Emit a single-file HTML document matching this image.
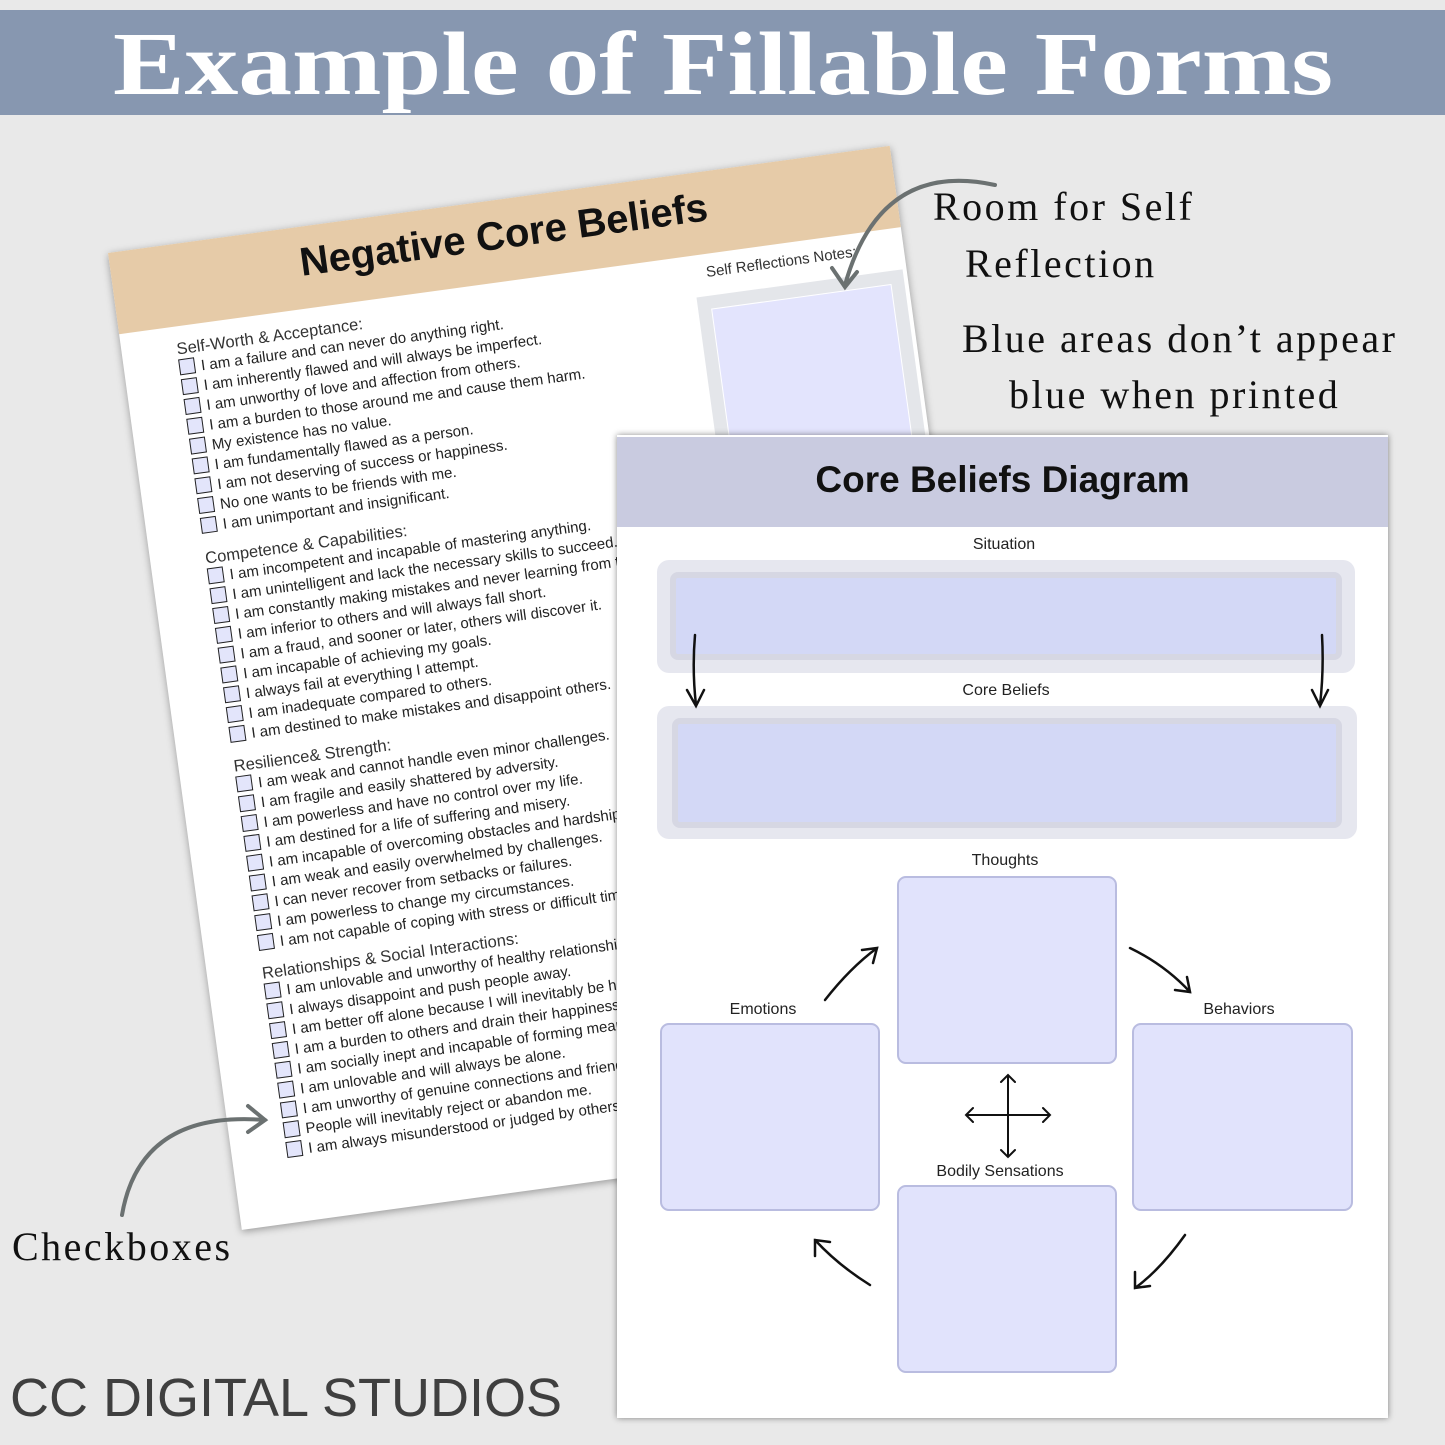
<!DOCTYPE html>
<html><head><meta charset="utf-8"><style>
*{margin:0;padding:0;box-sizing:border-box}
body{width:1445px;height:1445px;background:#e9e9e9;position:relative;overflow:hidden;font-family:"Liberation Sans",sans-serif}
.abs{position:absolute}
#back{left:108px;top:253px;width:789px;height:986px;background:#fff;transform-origin:0 0;transform:rotate(-7.8deg);box-shadow:0 2px 8px rgba(0,0,0,.35)}
#back .hd{position:absolute;left:0;top:0;width:789px;height:82px;background:#e6cba8}
#back .t{position:absolute;left:0;width:789px;top:14px;text-align:center;font-weight:bold;font-size:40px;color:#111}
.sec{position:absolute;left:55px;font-size:15px;color:#222}
.sec h4{font-weight:normal;font-size:16.5px;height:20px;line-height:20px;color:#333}
.sec div{height:20px;line-height:20px;white-space:nowrap}
.sec div:before{content:"";display:inline-block;width:14px;height:14px;border:1.5px solid #222;background:#e3e5fb;margin-right:6px;vertical-align:-2px}
#front{left:617px;top:435px;width:771px;height:983px;background:#fff;box-shadow:0 0 6px rgba(0,0,0,.45)}
.lbl{position:absolute;font-size:16px;color:#222;transform:translateX(-50%);white-space:nowrap}
.box{position:absolute;background:#e1e3fc;border:2px solid #b9bce0;border-radius:9px}
.serif{font-family:"Liberation Serif",serif;font-size:40px;color:#111;position:absolute;white-space:nowrap;letter-spacing:2.5px}
</style></head><body>
<div class="abs" style="left:0;top:10px;width:1445px;height:105px;background:#8797b0"></div>
<svg class="abs" style="left:0;top:0" width="1445" height="130"><text x="113" y="94" textLength="1220" lengthAdjust="spacingAndGlyphs" font-family="Liberation Serif,serif" font-weight="bold" font-size="90" fill="#fff">Example of Fillable Forms</text></svg>

<div id="back" class="abs">
<div class="hd"></div>
<div class="t">Negative Core Beliefs</div>
<div style="position:absolute;left:590px;top:92px;font-size:15px;color:#333">Self Reflections Notes:</div>
<div style="position:absolute;left:577px;top:124px;width:208px;height:360px;background:#e4e6ea"></div>
<div style="position:absolute;left:590px;top:137px;width:182px;height:340px;background:#e3e4fd;border:1px solid #fff"></div>
<div class="sec" style="top:95px"><h4>Self-Worth &amp; Acceptance:</h4>
<div>I am a failure and can never do anything right.</div><div>I am inherently flawed and will always be imperfect.</div><div>I am unworthy of love and affection from others.</div><div>I am a burden to those around me and cause them harm.</div><div>My existence has no value.</div><div>I am fundamentally flawed as a person.</div><div>I am not deserving of success or happiness.</div><div>No one wants to be friends with me.</div><div>I am unimportant and insignificant.</div></div>
<div class="sec" style="top:306px"><h4>Competence &amp; Capabilities:</h4>
<div>I am incompetent and incapable of mastering anything.</div><div>I am unintelligent and lack the necessary skills to succeed.</div><div>I am constantly making mistakes and never learning from them.</div><div>I am inferior to others and will always fall short.</div><div>I am a fraud, and sooner or later, others will discover it.</div><div>I am incapable of achieving my goals.</div><div>I always fail at everything I attempt.</div><div>I am inadequate compared to others.</div><div>I am destined to make mistakes and disappoint others.</div></div>
<div class="sec" style="top:516px"><h4>Resilience&amp; Strength:</h4>
<div>I am weak and cannot handle even minor challenges.</div><div>I am fragile and easily shattered by adversity.</div><div>I am powerless and have no control over my life.</div><div>I am destined for a life of suffering and misery.</div><div>I am incapable of overcoming obstacles and hardships.</div><div>I am weak and easily overwhelmed by challenges.</div><div>I can never recover from setbacks or failures.</div><div>I am powerless to change my circumstances.</div><div>I am not capable of coping with stress or difficult times.</div></div>
<div class="sec" style="top:725px"><h4>Relationships &amp; Social Interactions:</h4>
<div>I am unlovable and unworthy of healthy relationships.</div><div>I always disappoint and push people away.</div><div>I am better off alone because I will inevitably be hurt.</div><div>I am a burden to others and drain their happiness.</div><div>I am socially inept and incapable of forming meaningful bonds.</div><div>I am unlovable and will always be alone.</div><div>I am unworthy of genuine connections and friendships.</div><div>People will inevitably reject or abandon me.</div><div>I am always misunderstood or judged by others.</div></div>
</div>

<div id="front" class="abs">
<div style="position:absolute;left:0;top:2px;width:771px;height:90px;background:#c9cbe0"></div>
<div style="position:absolute;left:0;width:771px;top:24px;text-align:center;font-weight:bold;font-size:37px;color:#111">Core Beliefs Diagram</div>
<div class="lbl" style="left:387px;top:101px">Situation</div>
<div style="position:absolute;left:40px;top:125px;width:698px;height:113px;background:#e6e7ef;border-radius:12px"></div>
<div style="position:absolute;left:53px;top:137px;width:672px;height:88px;background:#d3d8f6;border:6px solid #d6d7e3;border-radius:8px"></div>
<div class="lbl" style="left:389px;top:247px">Core Beliefs</div>
<div style="position:absolute;left:40px;top:271px;width:700px;height:133px;background:#e6e7ef;border-radius:12px"></div>
<div style="position:absolute;left:55px;top:283px;width:670px;height:110px;background:#d3d8f6;border:6px solid #d6d7e3;border-radius:8px"></div>
<div class="lbl" style="left:388px;top:417px">Thoughts</div>
<div class="lbl" style="left:146px;top:566px">Emotions</div>
<div class="lbl" style="left:622px;top:566px">Behaviors</div>
<div class="lbl" style="left:383px;top:728px">Bodily Sensations</div>
<div class="box" style="left:280px;top:441px;width:220px;height:188px"></div>
<div class="box" style="left:43px;top:588px;width:220px;height:188px"></div>
<div class="box" style="left:515px;top:588px;width:221px;height:188px"></div>
<div class="box" style="left:280px;top:750px;width:220px;height:188px"></div>
</div>

<svg class="abs" style="left:0;top:0" width="1445" height="1445" fill="none" stroke="#111" stroke-width="2.5" stroke-linecap="round">
<path d="M695 635 Q692 670 696 705 M687 690 L696 706 L704 690"/>
<path d="M1322 635 Q1324 670 1320 705 M1312 690 L1320 706 L1328 690"/>
<path d="M825 1000 Q850 968 877 948 M862 950 L877 948 L873 963"/>
<path d="M1130 948 Q1165 965 1190 992 M1175 990 L1190 992 L1187 977"/>
<path d="M1185 1235 Q1160 1270 1135 1288 M1135 1272 L1135 1288 L1150 1286"/>
<path d="M870 1285 Q838 1265 815 1240 M815 1256 L815 1240 L830 1242"/>
<g stroke-width="2"><path d="M966 1115 H1050 M1008 1075 V1157 M973 1108 L966 1115 L973 1122 M1043 1108 L1050 1115 L1043 1122 M1001 1082 L1008 1075 L1015 1082 M1001 1150 L1008 1157 L1015 1150"/></g>
<g stroke="#6b7171" stroke-width="4"><path d="M995 185 Q880 160 845 285 M832 268 L845 287 L857 272"/>
<path d="M122 1215 Q140 1110 265 1120 M248 1106 L265 1120 L248 1132"/></g>
</svg>
<div class="serif" style="left:933px;top:183px">Room for Self</div>
<div class="serif" style="left:965px;top:240px">Reflection</div>
<div class="serif" style="left:962px;top:315px">Blue areas don’t appear</div>
<div class="serif" style="left:1009px;top:371px">blue when printed</div>
<div class="serif" style="left:12px;top:1223px">Checkboxes</div>
<div class="abs" style="left:10px;top:1367px;font-size:54px;color:#3f3f3f;white-space:nowrap">CC DIGITAL STUDIOS</div>
</body></html>
